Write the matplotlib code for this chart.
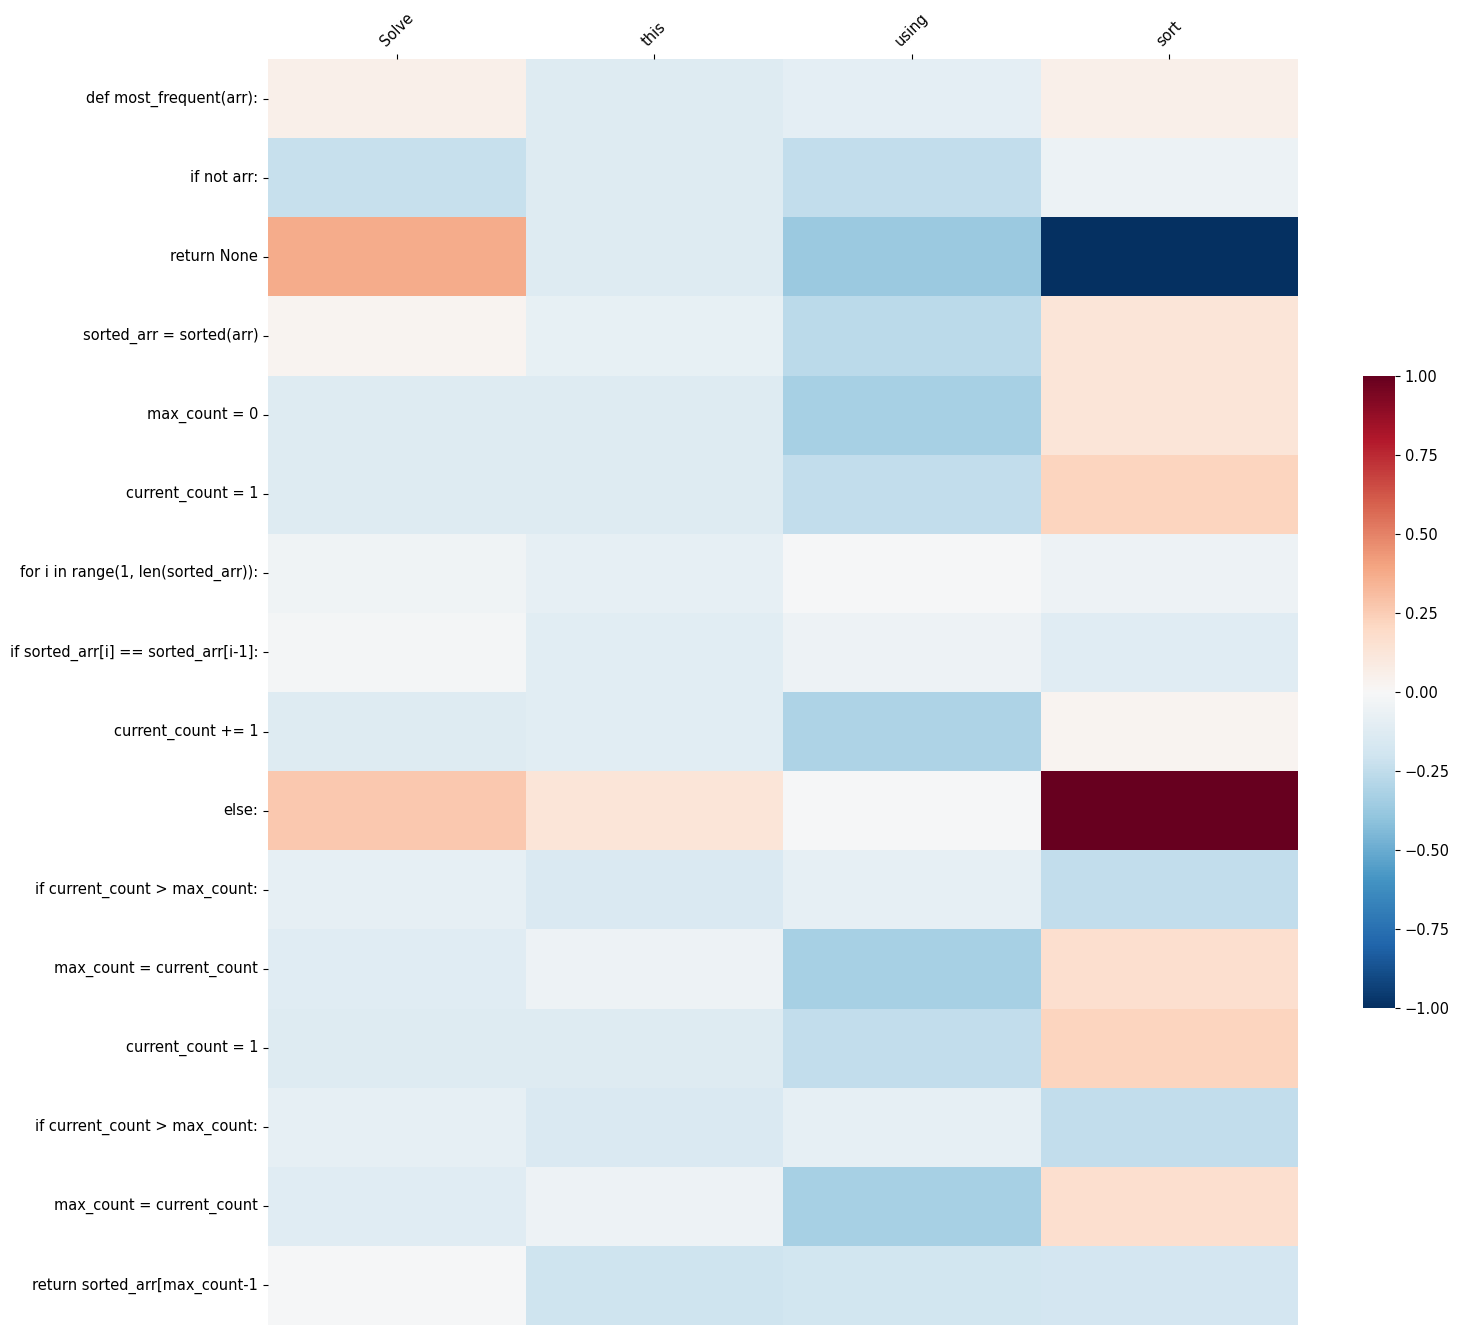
import numpy as np
import pandas as pd
import matplotlib
matplotlib.use("Agg")
import matplotlib.pyplot as plt
import seaborn as sns

# prompt tokens (columns) and code lines (rows)
tokens = ["Solve", "this", "using", "sort"]
code_lines = [
    "def most_frequent(arr):",
    "if not arr:",
    "return None",
    "sorted_arr = sorted(arr)",
    "max_count = 0",
    "current_count = 1",
    "for i in range(1, len(sorted_arr)):",
    "if sorted_arr[i] == sorted_arr[i-1]:",
    "current_count += 1",
    "else:",
    "if current_count > max_count:",
    "max_count = current_count",
    "current_count = 1",
    "if current_count > max_count:",
    "max_count = current_count",
    "return sorted_arr[max_count-1",
]

# attribution score per token, one list per column
solve = [0.06, -0.23, 0.37, 0.03, -0.13, -0.13, -0.04, -0.02,
         -0.13, 0.27, -0.09, -0.12, -0.13, -0.09, -0.12, -0.01]
this = [-0.13, -0.13, -0.13, -0.08, -0.13, -0.13, -0.09, -0.11,
        -0.11, 0.13, -0.15, -0.05, -0.13, -0.15, -0.05, -0.21]
using = [-0.10, -0.25, -0.37, -0.27, -0.33, -0.25, -0.01, -0.05,
         -0.31, -0.01, -0.09, -0.33, -0.25, -0.09, -0.33, -0.19]
sort = [0.06, -0.06, -1.00, 0.13, 0.13, 0.22, -0.05, -0.12,
        0.03, 1.00, -0.25, 0.17, 0.22, -0.25, 0.17, -0.18]

df = pd.DataFrame({"Solve": solve, "this": this, "using": using, "sort": sort},
                  index=code_lines)[tokens]

fig = plt.figure(figsize=(14.6, 13.36), dpi=100)
ax = fig.add_axes([0.1836, 0.0082, 0.7055, 0.9476])
cax = fig.add_axes([0.9336, 0.2455, 0.0219, 0.4731])

sns.heatmap(df, ax=ax, cbar_ax=cax, cmap="RdBu_r", vmin=-1, vmax=1, center=0)

ax.xaxis.tick_top()
ax.set_xticklabels(tokens, rotation=45, fontsize=10.5)
ax.set_yticklabels(code_lines, rotation=0, fontsize=10.5)
ax.tick_params(axis="both", length=3.5)
cax.tick_params(labelsize=10.5)

fig.savefig("out.png", dpi=100)
